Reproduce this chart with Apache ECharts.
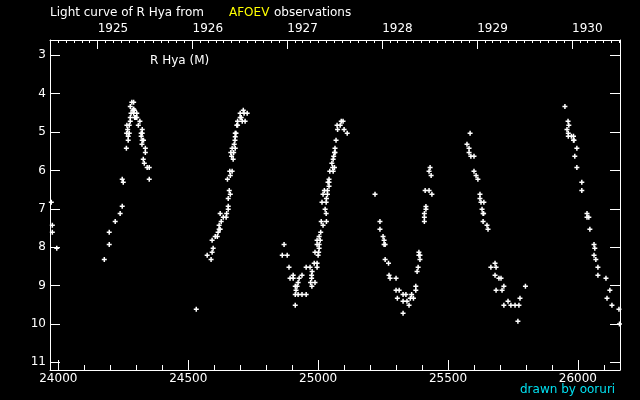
<!DOCTYPE html>
<html>
<head>
<meta charset="utf-8">
<script src="https://cdn.jsdelivr.net/npm/echarts@6/dist/echarts.min.js"></script>
<style>
html,body{margin:0;padding:0;background:#000;}
#chart{width:640px;height:400px;}
</style>
</head>
<body>
<div id="chart"></div>
<script>
// ---- data (JD - 2400000, visual magnitude) ----
const jd0 = [23973, 23977, 23977, 23994];
const mag0 = [6.83, 7.43, 7.61, 8.03];

const jd1 = [24177,24196,24196,24219,24238,24246,24246,24250,24262,24263,24273,24269,24269,24267,24264,24273,24277,24277,24294,24302,24298,24280,24290,24302,24287,24293,24290,24277,24283,24290,24314,24308,24323,24319,24323,24319,24323,24328,24322,24335,24335,24327,24331,24342,24350,24350];
const mag1 = [8.32,7.93,7.61,7.33,7.12,6.93,6.23,6.31,5.42,5.03,5.03,5.11,5.21,4.93,4.82,4.82,4.72,4.62,4.62,4.62,4.62,4.51,4.51,4.51,4.43,4.43,4.40,4.33,4.22,4.22,4.72,4.82,4.93,5.03,5.03,5.11,5.21,5.21,5.32,5.42,5.53,5.71,5.81,5.92,5.92,6.23];

const jd2 = [24531,24573,24588,24592,24596,24592,24604,24612,24615,24619,24623,24619,24627,24635,24646,24623,24648,24654,24654,24654,24662,24658,24660,24669,24662,24651,24673,24667,24664,24675,24669,24681,24677,24680,24681,24681,24684,24687,24690,24690,24708,24719,24700,24704,24700,24715,24727,24712];
const mag2 = [9.62,8.21,8.32,8.13,8.03,7.82,7.72,7.72,7.61,7.53,7.53,7.43,7.33,7.22,7.22,7.12,7.12,7.01,6.93,6.73,6.62,6.52,6.02,6.02,6.13,6.23,5.71,5.63,5.53,5.53,5.42,5.42,5.32,5.21,5.12,5.03,5.03,4.82,4.82,4.72,4.72,4.72,4.62,4.62,4.51,4.51,4.51,4.43];

const jd3 = [24869,24862,24881,24888,24904,24892,24904,24927,24938,24923,24912,24919,24915,24912,24923,24938,24954,24912,24954,24969,24977,24975,24975,24971,24988,24976,24985,24996,24996,24988,25002,25000,25004,24996,25004,24996,25008,25004,25010,25019,25012,25032,25027,25031,25015,25031,25032,25019,25036,25024,25036,25042,25038,25042,25042,25045,25058,25056,25063,25053,25058,25060,25065,25063,25065,25069,25075,25073,25085,25100,25112,25089,25096];
const mag3 = [7.93,8.21,8.21,8.52,8.73,8.81,8.81,8.81,8.73,8.92,9.02,9.02,9.12,9.23,9.23,9.23,9.23,9.51,8.52,8.52,8.63,8.73,8.81,8.92,8.92,9.02,8.42,8.42,8.52,8.13,8.13,8.21,8.03,7.93,7.93,7.82,7.82,7.72,7.61,7.43,7.33,7.33,7.01,7.12,6.83,6.83,6.73,6.62,6.62,6.52,6.52,6.41,6.31,6.31,6.23,6.02,6.02,5.92,5.92,5.81,5.71,5.63,5.53,5.53,5.42,5.21,4.93,4.82,4.82,4.93,5.03,4.72,4.72];

const jd4 = [25219,25238,25238,25250,25254,25254,25258,25258,25271,25273,25277,25300,25300,25312,25305,25327,25338,25360,25355,25367,25327,25342,25350,25327,25376,25376,25381,25385,25388,25388,25392,25392,25409,25409,25409,25415,25415,25412,25427,25438,25427,25431,25435];
const mag4 = [6.62,7.33,7.53,7.72,7.82,7.93,7.93,8.32,8.42,8.73,8.81,8.81,9.12,9.12,9.33,9.23,9.23,9.23,9.33,9.33,9.41,9.41,9.51,9.72,9.02,9.12,8.63,8.52,8.13,8.21,8.21,8.32,7.33,7.22,7.12,7.01,6.94,6.52,6.52,6.62,6.02,5.92,6.13];

const jd5 = [25585,25573,25581,25581,25588,25600,25600,25608,25615,25623,25623,25627,25638,25631,25635,25637,25635,25650,25654,25681,25665,25685,25681,25696,25704,25715,25685,25708,25731,25715,25742,25758,25773,25777,25798,25769];
const mag5 = [5.03,5.32,5.42,5.53,5.63,5.63,6.02,6.13,6.23,6.62,6.73,6.83,6.83,7.01,7.12,7.12,7.33,7.43,7.53,8.42,8.52,8.52,8.73,8.81,8.81,9.02,9.12,9.12,9.41,9.51,9.51,9.51,9.51,9.33,9.02,9.93];

const jd6 = [25950,25962,25965,25958,25963,25963,25975,25983,25983,25985,25996,25988,25996,26015,26015,26035,26035,26042,26046,26062,26065,26062,26069,26077,26077,26108,26123,26112,26131,26158,26160];
const mag6 = [4.33,4.72,4.82,4.93,5.03,5.11,5.11,5.11,5.21,5.21,5.42,5.63,5.92,6.31,6.52,7.12,7.22,7.22,7.53,7.93,8.03,8.21,8.32,8.52,8.73,8.81,9.12,9.33,9.51,9.62,10.0];

// ---- axis ticks / labels ----
const jdMajor = [24000, 24500, 25000, 25500, 26000];
const jdMinor = [24100, 24200, 24300, 24400, 24600, 24700, 24800, 24900, 25100, 25200, 25300, 25400, 25600, 25700, 25800, 25900, 26100];
const magTicks = [3, 4, 5, 6, 7, 8, 9, 10, 11];
const yearLabels = ['1925', '1926', '1927', '1928', '1929', '1930'];
const yearJD = [24151.5, 24516.5, 24881.5, 25246.5, 25612.5, 25977.5];

const X_MIN = 23968, X_MAX = 26162;
const Y_MIN = 2.6, Y_MAX = 11.2;

// month-start ticks (calendar conversion of month starts to JD-2400000)
const monthJD = [];
for (let y = 1924; y <= 1930; y++) {
  for (let m = 0; m < 12; m++) {
    const jd = Date.UTC(y, m, 1) / 86400000 + 2440587.5 - 2400000;
    if (jd > X_MIN + 1 && jd < X_MAX - 1) monthJD.push(jd);
  }
}

const pairs = (a, b) => a.map((v, i) => [v, b[i]]);
const allData = [].concat(
  pairs(jd0, mag0), pairs(jd1, mag1), pairs(jd2, mag2), pairs(jd3, mag3),
  pairs(jd4, mag4), pairs(jd5, mag5), pairs(jd6, mag6)
);

const FONT = '"DejaVu Sans", sans-serif';
const white = '#ffffff';
const line = { show: true, onZero: false, lineStyle: { color: white, width: 1 } };

const chart = echarts.init(document.getElementById('chart'), null, { renderer: 'canvas' });
chart.setOption({
  backgroundColor: '#000000',
  animation: false,
  grid: { left: 50, right: 20, top: 40, bottom: 30, containLabel: false },
  xAxis: [
    {
      type: 'value', position: 'bottom', min: X_MIN, max: X_MAX,
      axisLine: line,
      axisTick: { show: true, inside: true, length: 10, customValues: jdMajor, lineStyle: { color: white } },
      axisLabel: { show: true, customValues: jdMajor, color: white, fontFamily: FONT, fontSize: 12, margin: 3,
        formatter: function (v) { return String(Math.round(v)); } },
      splitLine: { show: false }
    },
    {
      type: 'value', position: 'bottom', min: X_MIN, max: X_MAX,
      axisLine: { show: false },
      axisTick: { show: true, inside: true, length: 5, customValues: jdMinor, lineStyle: { color: white } },
      axisLabel: { show: false },
      splitLine: { show: false }
    },
    {
      type: 'value', position: 'top', min: X_MIN, max: X_MAX,
      axisLine: line,
      axisTick: { show: true, inside: true, length: 9, customValues: yearJD, lineStyle: { color: white } },
      axisLabel: {
        show: true, customValues: yearJD, color: white, fontFamily: FONT, fontSize: 12, margin: 5,
        align: 'left',
        formatter: function (v) { const i = yearJD.findIndex(j => Math.abs(j - v) < 0.01); return i >= 0 ? yearLabels[i] : ''; }
      },
      splitLine: { show: false }
    },
    {
      type: 'value', position: 'top', min: X_MIN, max: X_MAX,
      axisLine: { show: false },
      axisTick: { show: true, inside: true, length: 3, customValues: monthJD, lineStyle: { color: white } },
      axisLabel: { show: false },
      splitLine: { show: false }
    }
  ],
  yAxis: [
    {
      type: 'value', position: 'left', inverse: true, min: Y_MIN, max: Y_MAX,
      axisLine: line,
      axisTick: { show: true, inside: true, length: 10, customValues: magTicks, lineStyle: { color: white } },
      axisLabel: { show: true, customValues: magTicks, color: white, fontFamily: FONT, fontSize: 12, margin: 4 },
      splitLine: { show: false }
    },
    {
      type: 'value', position: 'right', inverse: true, min: Y_MIN, max: Y_MAX,
      axisLine: line,
      axisTick: { show: true, inside: true, length: 10, customValues: magTicks, lineStyle: { color: white } },
      axisLabel: { show: false },
      splitLine: { show: false }
    }
  ],
  series: [{
    type: 'scatter',
    xAxisIndex: 0, yAxisIndex: 0,
    symbol: 'path://M3.5,0H6.5V3.5H10V6.5H6.5V10H3.5V6.5H0V3.5H3.5Z',
    symbolSize: 5,
    itemStyle: { color: white, opacity: 1 },
    data: allData,
    clip: true
  }],
  graphic: [
    { type: 'text', x: 50, y: 13, style: { text: 'Light curve of R Hya from', fill: white, font: '12px ' + FONT, align: 'left', verticalAlign: 'middle' } },
    { type: 'text', x: 229, y: 13, style: { text: 'AFOEV', fill: '#ffff00', font: '12px ' + FONT, align: 'left', verticalAlign: 'middle' } },
    { type: 'text', x: 274, y: 13, style: { text: 'observations', fill: white, font: '12px ' + FONT, align: 'left', verticalAlign: 'middle' } },
    { type: 'text', x: 150, y: 61, style: { text: 'R Hya (M)', fill: white, font: '12px ' + FONT, align: 'left', verticalAlign: 'middle' } },
    { type: 'text', x: 520, y: 390, style: { text: 'drawn by ooruri', fill: '#00e0f0', font: '12px ' + FONT, align: 'left', verticalAlign: 'middle' } }
  ]
});
</script>
</body>
</html>
